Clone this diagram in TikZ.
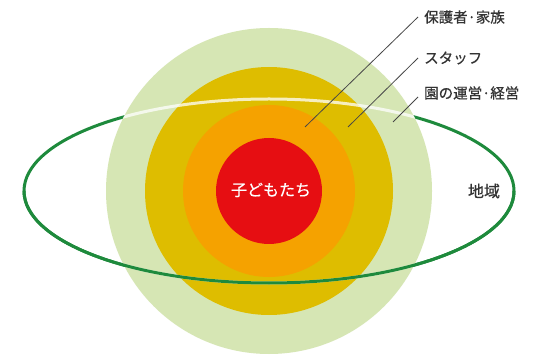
\documentclass[tikz,border=0pt]{standalone}
\usepackage{fontspec}
\setmainfont{Noto Sans CJK JP}[AutoFakeBold=0.6]
\usetikzlibrary{calc}
\definecolor{lgreen}{HTML}{D6E6B4}
\definecolor{gold}{HTML}{DEBD00}
\definecolor{orng}{HTML}{F5A200}
\definecolor{kred}{HTML}{E60E12}
\definecolor{ring}{HTML}{1E8A3C}
\definecolor{txt}{HTML}{333333}
\tikzset{
  disc/.style={circle, inner sep=0pt, draw=none},
  ringline/.style={draw=ring, line width=3pt},
  backline/.style={draw=white, line width=3pt, opacity=0.75},
  label/.style={anchor=west, inner sep=0pt, text=txt, font=\fontsize{14.5}{16}\selectfont\bfseries},
  leader/.style={draw=txt!90, line width=0.8pt},
}
\begin{document}
\begin{tikzpicture}[x=1pt,y=-1pt]
\useasboundingbox[fill=white] (0,0) rectangle (551,355);
\coordinate (c) at (269,191);
% ring (full, behind)
\draw[ringline] (c) ellipse [x radius=245pt, y radius=92pt];
% circles
\node[disc, fill=lgreen, minimum size=326pt] (org) at (c) {};
\node[disc, fill=gold, minimum size=248pt] (staff) at (c) {};
\node[disc, fill=orng, minimum size=172pt] (fam) at (c) {};
\node[disc, fill=kred, minimum size=106pt] (kids) at (c) {};
% back part of ring seen through the circles
\begin{scope}
  \clip (c) circle (163pt);
  \draw[backline] (c) ellipse [x radius=245pt, y radius=92pt];
\end{scope}
% front part of ring
\draw[ringline] ($(c)+(-245pt,0pt)$) arc [start angle=180, end angle=360, x radius=245pt, y radius=92pt];
% texts
\node[text=white, font=\fontsize{16}{18}\selectfont\bfseries] (kt) at (271,190) {子どもたち};
\node[text=txt, font=\fontsize{16}{18}\selectfont\bfseries] (area) at (484,191) {地域};
\node[label] (l1) at (424,17) {保護者·家族};
\node[label] (l2) at (424,58) {スタッフ};
\node[label] (l3) at (424,93) {園の運営·経営};
\coordinate (p1) at (305,127);
\coordinate (p2) at (348,127);
\coordinate (p3) at (393,122);
\draw[leader] ([xshift=-6pt]l1.west) -- (p1);
\draw[leader] ([xshift=-6pt]l2.west) -- (p2);
\draw[leader] ([xshift=-6pt,yshift=-4pt]l3.west) -- (p3);
\end{tikzpicture}
\end{document}
